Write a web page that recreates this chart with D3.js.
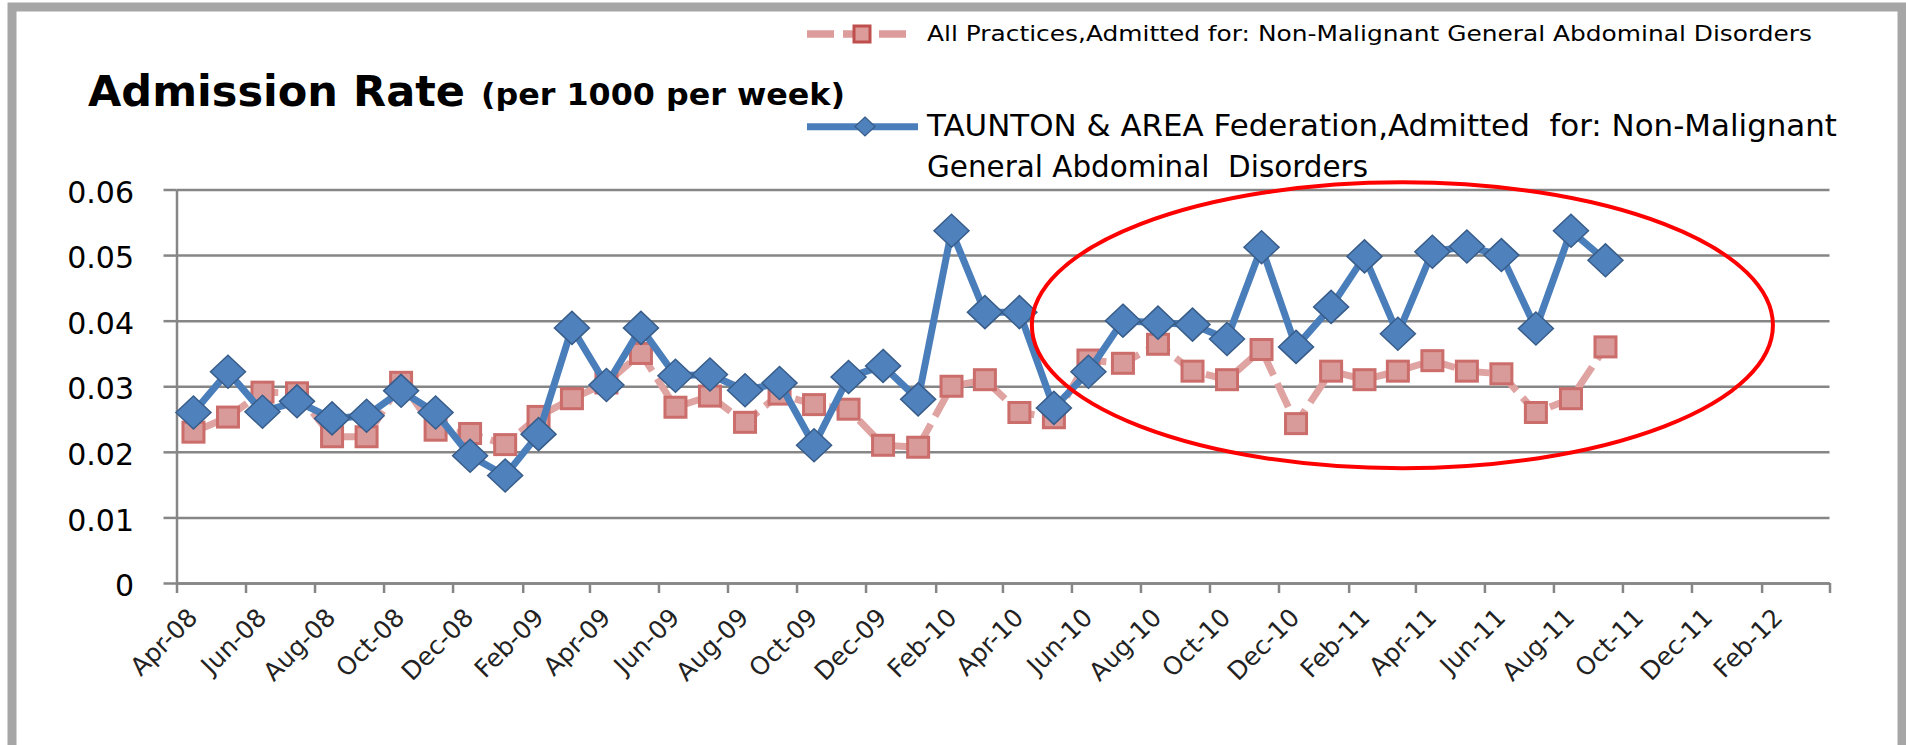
<!DOCTYPE html>
<html>
<head>
<meta charset="utf-8">
<script src="https://cdnjs.cloudflare.com/ajax/libs/d3/7.8.5/d3.min.js"></script>
<style>
  body { margin: 0; background: #fff; }
  svg { display: block; font-family: "DejaVu Sans", sans-serif; }
  text { white-space: pre; }
</style>
</head>
<body>
<svg id="chart" width="1906" height="745"></svg>
<script>
// monthly admission rates, Apr-08 .. Sep-11
const months = [
  "2008-04","2008-05","2008-06","2008-07","2008-08","2008-09","2008-10","2008-11","2008-12",
  "2009-01","2009-02","2009-03","2009-04","2009-05","2009-06","2009-07","2009-08","2009-09","2009-10","2009-11","2009-12",
  "2010-01","2010-02","2010-03","2010-04","2010-05","2010-06","2010-07","2010-08","2010-09","2010-10","2010-11","2010-12",
  "2011-01","2011-02","2011-03","2011-04","2011-05","2011-06","2011-07","2011-08","2011-09"
];
const taunton = [
  0.0260, 0.0322, 0.0261, 0.0277, 0.0251, 0.0255, 0.0293, 0.0260, 0.0194,
  0.0164, 0.0227, 0.0389, 0.0302, 0.0389, 0.0316, 0.0318, 0.0294, 0.0305, 0.0210, 0.0314, 0.0331,
  0.0280, 0.0537, 0.0413, 0.0413, 0.0267, 0.0322, 0.0400, 0.0397, 0.0394, 0.0372, 0.0512, 0.0360,
  0.0421, 0.0498, 0.0380, 0.0505, 0.0513, 0.0500, 0.0388, 0.0537, 0.0492
];
const allPractices = [
  0.0230, 0.0253, 0.0291, 0.0290, 0.0223, 0.0223, 0.0306, 0.0233, 0.0228,
  0.0211, 0.0254, 0.0281, 0.0305, 0.0350, 0.0268, 0.0285, 0.0245, 0.0288, 0.0272, 0.0265, 0.0210,
  0.0207, 0.0300, 0.0310, 0.0260, 0.0252, 0.0340, 0.0335, 0.0364, 0.0323, 0.0310, 0.0356, 0.0243,
  0.0323, 0.0310, 0.0323, 0.0339, 0.0323, 0.0319, 0.0260, 0.0281, 0.0360
];
const yTicks = [0, 0.01, 0.02, 0.03, 0.04, 0.05, 0.06];
const xTickLabels = ["Apr-08","Jun-08","Aug-08","Oct-08","Dec-08","Feb-09","Apr-09","Jun-09","Aug-09","Oct-09","Dec-09",
  "Feb-10","Apr-10","Jun-10","Aug-10","Oct-10","Dec-10","Feb-11","Apr-11","Jun-11","Aug-11","Oct-11","Dec-11","Feb-12"];
const xEndLabel = "Apr-12";
const seriesAll = "All Practices,Admitted for: Non-Malignant General Abdominal Disorders";
const seriesTaunton = ["TAUNTON & AREA Federation,Admitted  for: Non-Malignant", "General Abdominal  Disorders"];
// hand-drawn ring around the recent months
const highlight = { start: "2010-04-27", end: "2012-02-11", low: 0.0175, high: 0.0611 };

const svg = d3.select("#chart");
const plotLeft = 176.5, plotRight = 1829.5, plotTop = 189.5, plotBottom = 583;

const parseTick = d3.timeParse("%b-%y");
const parseMonth = d3.timeParse("%Y-%m");
const parseDay = d3.timeParse("%Y-%m-%d");

const x = d3.scaleTime().domain([parseTick(xTickLabels[0]), parseTick(xEndLabel)]).range([plotLeft, plotRight]);
const y = d3.scaleLinear().domain([0, 0.06]).range([plotBottom, plotTop]);

// each monthly value sits in the middle of its month
function midMonth(m) {
  const s = parseMonth(m);
  const e = d3.timeMonth.offset(s, 1);
  return new Date((+s + +e) / 2);
}
const dataAll = months.map((m, i) => ({ date: midMonth(m), v: allPractices[i] }));
const dataTaunton = months.map((m, i) => ({ date: midMonth(m), v: taunton[i] }));

// outer frame
svg.append("rect")
  .attr("x", 12).attr("y", 7).attr("width", 1890).attr("height", 800)
  .attr("fill", "none").attr("stroke", "#a6a6a6").attr("stroke-width", 9);

// gridlines
const grid = svg.append("g").attr("transform", "translate(" + plotLeft + ",0)")
  .call(d3.axisLeft(y).tickValues(yTicks).tickSize(-(plotRight - plotLeft)).tickFormat(""));
grid.select(".domain").remove();
grid.selectAll("line").attr("stroke", "#868686").attr("stroke-width", 2.5);

// y axis
const yAxis = svg.append("g").attr("transform", "translate(" + plotLeft + ",0)")
  .call(d3.axisLeft(y).tickValues(yTicks).tickSize(13).tickSizeOuter(0).tickPadding(29.5)
    .tickFormat(d => d === 0 ? "0" : d3.format(".2f")(d)));
yAxis.select(".domain").attr("stroke", "#868686").attr("stroke-width", 2.5);
yAxis.selectAll("line").attr("stroke", "#868686").attr("stroke-width", 2.5);
yAxis.selectAll("text")
  .attr("font-family", "DejaVu Sans").attr("font-size", 30).attr("fill", "#000")
  .attr("dy", "0.42em");

// x axis
const tickDates = xTickLabels.map(parseTick).concat([parseTick(xEndLabel)]);
const xAxis = svg.append("g").attr("transform", "translate(0," + plotBottom + ")")
  .call(d3.axisBottom(x).tickValues(tickDates).tickSize(10).tickSizeOuter(0)
    .tickFormat((d, i) => i < xTickLabels.length ? xTickLabels[i] : ""));
xAxis.select(".domain").attr("stroke", "#868686").attr("stroke-width", 2.5);
xAxis.selectAll("line").attr("stroke", "#868686").attr("stroke-width", 2.5);
xAxis.selectAll("text")
  .attr("font-family", "DejaVu Sans").attr("font-size", 25).attr("fill", "#222")
  .attr("x", 0).attr("y", 0).attr("dy", 0)
  .attr("text-anchor", "end")
  .attr("transform", "translate(22,36) rotate(-45)");

const line = d3.line().x(d => x(d.date)).y(d => y(d.v));

/* All Practices: dashed pink line with squares */
svg.append("path").datum(dataAll)
  .attr("d", line).attr("fill", "none")
  .attr("stroke", "#dfa3a2").attr("stroke-width", 7)
  .attr("stroke-dasharray", "26,9");
svg.append("g").selectAll("rect").data(dataAll).enter().append("rect")
  .attr("x", d => x(d.date) - 10.5).attr("y", d => y(d.v) - 10)
  .attr("width", 21).attr("height", 20)
  .attr("fill", "#d99b99").attr("stroke", "#cb6d6b").attr("stroke-width", 3);

/* Taunton: solid blue line with diamonds */
svg.append("path").datum(dataTaunton)
  .attr("d", line).attr("fill", "none")
  .attr("stroke", "#4a7ebb").attr("stroke-width", 7).attr("stroke-linejoin", "round");
svg.append("g").selectAll("path").data(dataTaunton).enter().append("path")
  .attr("transform", d => "translate(" + x(d.date) + "," + y(d.v) + ")")
  .attr("d", "M0,-16.5L17.5,0L0,16.5L-17.5,0Z")
  .attr("fill", "#4f81bd").attr("stroke", "#385d8a").attr("stroke-width", 1.5);

// red ring
const hx0 = x(parseDay(highlight.start)), hx1 = x(parseDay(highlight.end));
const hy0 = y(highlight.high), hy1 = y(highlight.low);
svg.append("ellipse")
  .attr("cx", (hx0 + hx1) / 2).attr("cy", (hy0 + hy1) / 2)
  .attr("rx", (hx1 - hx0) / 2).attr("ry", (hy1 - hy0) / 2)
  .attr("fill", "none").attr("stroke", "#ff0000").attr("stroke-width", 4);

// title
svg.append("text").attr("x", 88).attr("y", 105.7)
  .attr("font-size", 43).attr("font-weight", "bold").attr("fill", "#000")
  .attr("textLength", 377).attr("lengthAdjust", "spacingAndGlyphs")
  .text("Admission Rate");
svg.append("text").attr("x", 481).attr("y", 105)
  .attr("font-size", 30).attr("font-weight", "bold").attr("fill", "#000")
  .attr("textLength", 364).attr("lengthAdjust", "spacingAndGlyphs")
  .text("(per 1000 per week)");

// legend
const legend = svg.append("g");
legend.append("line").attr("x1", 807).attr("x2", 908).attr("y1", 34).attr("y2", 34)
  .attr("stroke", "#dc9c9b").attr("stroke-width", 7.5).attr("stroke-dasharray", "27,9");
legend.append("rect").attr("x", 854).attr("y", 26).attr("width", 16).attr("height", 16)
  .attr("fill", "#dc9c9a").attr("stroke", "#bf4f4c").attr("stroke-width", 3);
legend.append("text").attr("x", 927).attr("y", 40.7)
  .attr("font-size", 22).attr("fill", "#000")
  .attr("textLength", 885).attr("lengthAdjust", "spacingAndGlyphs")
  .text(seriesAll);

legend.append("line").attr("x1", 807).attr("x2", 918).attr("y1", 126.7).attr("y2", 126.7)
  .attr("stroke", "#4a7ebb").attr("stroke-width", 7);
legend.append("path").attr("transform", "translate(865,126.5)")
  .attr("d", "M0,-9.5L10,0L0,9.5L-10,0Z")
  .attr("fill", "#4f81bd").attr("stroke", "#385d8a").attr("stroke-width", 1.2);
legend.append("text").attr("x", 927).attr("y", 135.7)
  .attr("font-size", 30).attr("fill", "#000")
  .attr("textLength", 910).attr("lengthAdjust", "spacingAndGlyphs")
  .text(seriesTaunton[0]);
legend.append("text").attr("x", 927).attr("y", 176.7)
  .attr("font-size", 30).attr("fill", "#000")
  .attr("textLength", 441).attr("lengthAdjust", "spacingAndGlyphs")
  .text(seriesTaunton[1]);
</script>
</body>
</html>
